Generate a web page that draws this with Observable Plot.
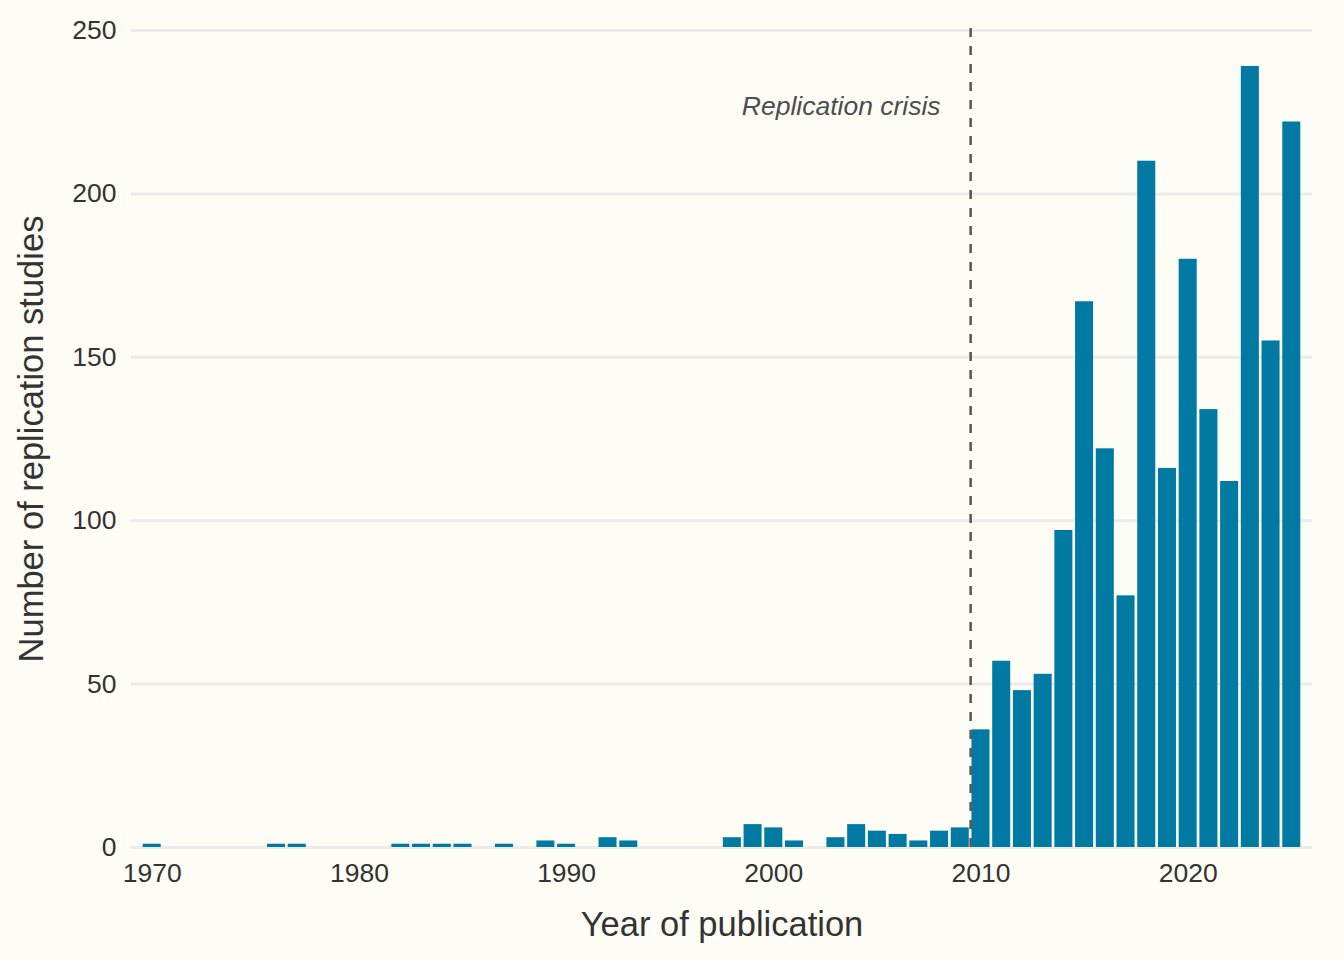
<!DOCTYPE html>
<html>
<head>
<meta charset="utf-8">
<script src="https://cdn.jsdelivr.net/npm/d3@7"></script>
<script src="https://cdn.jsdelivr.net/npm/@observablehq/plot@0.6"></script>
<style>
  html, body { margin: 0; padding: 0; background: #fefdf5; }
  #chart svg { display: block; }
</style>
</head>
<body>
<div id="chart"></div>
<script>
// Data
const years  = [1970,1976,1977,1982,1983,1984,1985,1987,1989,1990,1992,1993,1998,1999,2000,2001,2003,2004,2005,2006,2007,2008,2009,
                2010,2011,2012,2013,2014,2015,2016,2017,2018,2019,2020,2021,2022,2023,2024,2025];
const counts = [1,1,1,1,1,1,1,1,2,1,3,2,3,7,6,2,3,7,5,4,2,5,6,
                36,57,48,53,97,167,122,77,210,116,180,134,112,239,155,222];
const xTicks = [1970,1980,1990,2000,2010,2020];
const yTicks = [0,50,100,150,200,250];
const crisisYear = 2009.5;
const crisisLabel = "Replication crisis";
const crisisLabelValue = 226.6;
const xLabel = "Year of publication";
const yLabel = "Number of replication studies";

const data = years.map((y, i) => ({year: y, count: counts[i]}));
const half = 0.435;
const font = "'Liberation Sans', Arial, Helvetica, sans-serif";

const chart = Plot.plot({
  width: 1344,
  height: 960,
  marginLeft: 131,
  marginRight: 32,
  marginTop: 30,
  marginBottom: 113,
  style: {background: "#fefdf5", fontFamily: font, color: "#333"},
  x: {type: "linear", domain: [1969, 2026]},
  y: {domain: [0, 250]},
  marks: [
    Plot.ruleY(yTicks, {stroke: "#ebebeb", strokeWidth: 3}),
    Plot.rectY(data, {x1: d => d.year - half, x2: d => d.year + half, y1: 0, y2: "count", fill: "#0079a3"}),
    Plot.ruleX([crisisYear], {y1: 0, y2: 251.5, stroke: "#555", strokeWidth: 2.5, strokeDasharray: "9,9"}),
    Plot.text([crisisLabel], {x: crisisYear, y: crisisLabelValue, text: d => d, textAnchor: "end", dx: -30,
      fontSize: 26.5, fontStyle: "italic", fill: "#4d4d4d", lineAnchor: "middle"}),
    Plot.axisX({ticks: xTicks, tickFormat: d => String(d), tickSize: 0, tickPadding: 16, fontSize: 26.5, label: null, color: "#333"}),
    Plot.axisY({ticks: yTicks, tickSize: 0, tickPadding: 15, fontSize: 26.5, label: null, color: "#333"}),
    Plot.text([xLabel], {frameAnchor: "bottom", dy: 77, text: d => d, fontSize: 34.5, fill: "#333", lineAnchor: "middle", textAnchor: "middle"}),
    Plot.text([yLabel], {frameAnchor: "left", dx: -100, rotate: -90, text: d => d, fontSize: 34.5, fill: "#333", lineAnchor: "middle", textAnchor: "middle"})
  ]
});
document.getElementById("chart").appendChild(chart);
</script>
</body>
</html>
